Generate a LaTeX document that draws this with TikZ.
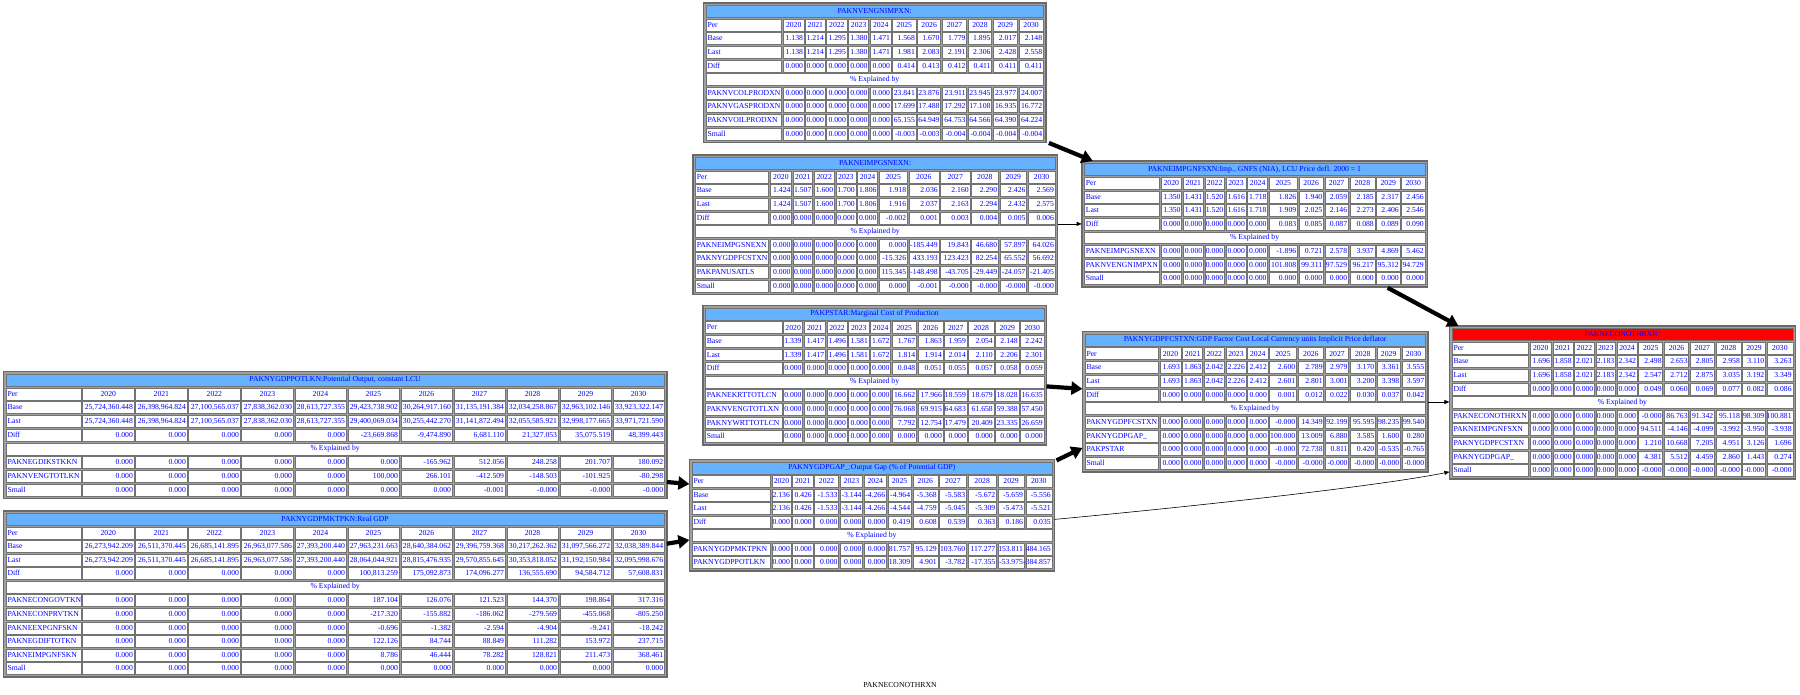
\documentclass[tikz,border=0pt]{standalone}
\usepackage{fontspec}
\setmainfont{Liberation Serif}
\usetikzlibrary{arrows.meta,calc}

\definecolor{gvblue}{RGB}{0,0,255}
\definecolor{gvhead}{RGB}{102,178,255}
\definecolor{gvred}{RGB}{255,0,0}
\definecolor{gvgap}{RGB}{160,160,160}
\definecolor{gvframe}{RGB}{105,105,105}
\definecolor{gvcellline}{RGB}{115,115,115}

\makeatletter
\newcount\gv@c
\def\gv@sp{1.67}
\newcommand\gvfont{\fontsize{7.7}{9}\selectfont}

% column edges from a left x and a list of widths
\newcommand\gvcols[2]{%
  \xdef\gv@x{#1}\global\gv@c=0
  \foreach \w in {#2}{%
    \pgfmathsetmacro\gv@r{\gv@x+\w}%
    \expandafter\xdef\csname gvL\the\gv@c\endcsname{\gv@x}%
    \expandafter\xdef\csname gvR\the\gv@c\endcsname{\gv@r}%
    \pgfmathsetmacro\gv@nx{\gv@r+\gv@sp}%
    \xdef\gv@x{\gv@nx}%
    \global\advance\gv@c by 1
  }%
}
\newcommand\gvsetup[4]{\gvcols{#1}{#4}\xdef\gvT{#2}\xdef\gvP{#3}}

% vertical extent of a row
\newcommand\gv@rowy[1]{%
  \pgfmathsetmacro\gv@t{\gvT+(#1)*\gvP}%
  \pgfmathsetmacro\gv@b{\gv@t+\gvP-\gv@sp}%
  \pgfmathsetmacro\gv@m{(\gv@t+\gv@b)/2}%
}
\newcommand\gvcell[3]{%
  \gv@rowy{#1}%
  \filldraw[fill=#3, draw=gvcellline, line width=0.5pt]
    (\csname gvL#2\endcsname,\gv@t) rectangle (\csname gvR#2\endcsname,\gv@b);
}
% a cell spanning the whole width: row, fill, text
\newcommand\gvspan[3]{%
  \gv@rowy{#1}%
  \filldraw[fill=#2, draw=gvcellline, line width=0.5pt]
    (\csname gvL0\endcsname,\gv@t) rectangle (\csname gvR11\endcsname,\gv@b);
  \node[gvtxt] at ({(\csname gvL0\endcsname+\csname gvR11\endcsname)/2},\gv@m) {#3};
}
% frame, title row and year row: name, rows, title fill, title
\newcommand\gvframe[4]{%
  \pgfmathsetmacro\gv@l{\csname gvL0\endcsname-2.6}%
  \pgfmathsetmacro\gv@rr{\csname gvR11\endcsname+2.6}%
  \pgfmathsetmacro\gv@tt{\gvT-2.6}%
  \pgfmathsetmacro\gv@bb{\gvT+(#2)*\gvP-\gv@sp+2.6}%
  \pgfmathsetmacro\gv@w{\gv@rr-\gv@l}%
  \pgfmathsetmacro\gv@h{\gv@bb-\gv@tt}%
  \fill[gvgap] (\gv@l,\gv@tt) rectangle (\gv@rr,\gv@bb);
  \draw[gvframe, line width=1.6pt] (\gv@l,\gv@tt) rectangle (\gv@rr,\gv@bb);
  \node[inner sep=0pt, outer sep=0pt, minimum width=\gv@w pt, minimum height=\gv@h pt,
        anchor=north west] (#1) at (\gv@l,\gv@tt) {};
  \gvspan{0}{#3}{#4}%
  \gvcell{1}{0}{white}%
  \node[gvtxt, anchor=mid west] at (\csname gvL0\endcsname+1.3,\gv@m) {Per};
  \foreach \yr [count=\k] in {2020,2021,2022,2023,2024,2025,2026,2027,2028,2029,2030}{%
    \gvcell{1}{\k}{white}%
    \node[gvtxt] at ({(\csname gvL\k\endcsname+\csname gvR\k\endcsname)/2},\gv@m) {\yr};
  }%
}
% a data row: row, label, eleven values
\newcommand\gvrow[3]{%
  \gvcell{#1}{0}{white}%
  \node[gvtxt, anchor=mid west] at (\csname gvL0\endcsname+1.3,\gv@m) {#2};
  \foreach \val [count=\k] in {#3}{%
    \gvcell{#1}{\k}{white}%
    \node[gvtxt, anchor=mid east] at (\csname gvR\k\endcsname-0.9,\gv@m) {\val};
  }%
}
\makeatother

\tikzset{
  gvtxt/.style={font=\gvfont, text=gvblue, inner sep=0pt},
  bigedge/.style={line width=4.2pt, -{Triangle[length=11pt,width=13pt]}},
  thinedge/.style={line width=0.6pt, -{Triangle[length=5pt,width=4pt]}},
}

\begin{document}
\begin{tikzpicture}[x=1pt,y=-1pt]
\useasboundingbox (0,0) rectangle (1800,694);

% PAKNVENGNIMPXN
\gvsetup{706}{5.5}{13.6}{75.7,20.7,19.3,20.3,20,20.7,23.3,23,24.3,23.3,24,24.3}
\gvframe{T1}{10}{gvhead}{PAKNVENGNIMPXN:}
\gvrow{2}{Base}{1.138,1.214,1.295,1.380,1.471,1.568,1.670,1.779,1.895,2.017,2.148}
\gvrow{3}{Last}{1.138,1.214,1.295,1.380,1.471,1.981,2.083,2.191,2.306,2.428,2.558}
\gvrow{4}{Diff}{0.000,0.000,0.000,0.000,0.000,0.414,0.413,0.412,0.411,0.411,0.411}
\gvspan{5}{white}{\% Explained by}
\gvrow{6}{PAKNVCOLPRODXN}{0.000,0.000,0.000,0.000,0.000,23.841,23.876,23.911,23.945,23.977,24.007}
\gvrow{7}{PAKNVGASPRODXN}{0.000,0.000,0.000,0.000,0.000,17.699,17.488,17.292,17.108,16.935,16.772}
\gvrow{8}{PAKNVOILPRODXN}{0.000,0.000,0.000,0.000,0.000,65.155,64.949,64.753,64.566,64.390,64.224}
\gvrow{9}{Small}{0.000,0.000,0.000,0.000,0.000,-0.003,-0.003,-0.004,-0.004,-0.004,-0.004}

% PAKNEIMPGSNEXN
\gvsetup{695.3}{157.5}{13.6}{73.3,21.3,19.3,20,20,20,28,30,29.3,26.7,26.7,26.7}
\gvframe{T2}{10}{gvhead}{PAKNEIMPGSNEXN:}
\gvrow{2}{Base}{1.424,1.507,1.600,1.700,1.806,1.918,2.036,2.160,2.290,2.426,2.569}
\gvrow{3}{Last}{1.424,1.507,1.600,1.700,1.806,1.916,2.037,2.163,2.294,2.432,2.575}
\gvrow{4}{Diff}{0.000,0.000,0.000,0.000,0.000,-0.002,0.001,0.003,0.004,0.005,0.006}
\gvspan{5}{white}{\% Explained by}
\gvrow{6}{PAKNEIMPGSNEXN}{0.000,0.000,0.000,0.000,0.000,0.000,-185.449,19.843,46.680,57.897,64.026}
\gvrow{7}{PAKNYGDPFCSTXN}{0.000,0.000,0.000,0.000,0.000,-15.326,433.193,123.423,82.254,65.552,56.692}
\gvrow{8}{PAKPANUSATLS}{0.000,0.000,0.000,0.000,0.000,115.345,-148.498,-43.705,-29.449,-24.057,-21.405}
\gvrow{9}{Small}{0.000,0.000,0.000,0.000,0.000,0.000,-0.001,-0.000,-0.000,-0.000,-0.000}

% PAKNEIMPGNFSXN
\gvsetup{1084.3}{163.5}{13.65}{75,20.7,20,19.3,20,20,28,24.3,23.3,25,23.3,23.3}
\gvframe{T3}{9}{gvhead}{PAKNEIMPGNFSXN:Imp., GNFS (NIA), LCU Price defl. 2000 = 1}
\gvrow{2}{Base}{1.350,1.431,1.520,1.616,1.718,1.826,1.940,2.059,2.185,2.317,2.456}
\gvrow{3}{Last}{1.350,1.431,1.520,1.616,1.718,1.909,2.025,2.146,2.273,2.406,2.546}
\gvrow{4}{Diff}{0.000,0.000,0.000,0.000,0.000,0.083,0.085,0.087,0.088,0.089,0.090}
\gvspan{5}{white}{\% Explained by}
\gvrow{6}{PAKNEIMPGSNEXN}{0.000,0.000,0.000,0.000,0.000,-1.896,0.721,2.578,3.937,4.869,5.462}
\gvrow{7}{PAKNVENGNIMPXN}{0.000,0.000,0.000,0.000,0.000,101.808,99.311,97.529,96.217,95.312,94.729}
\gvrow{8}{Small}{0.000,0.000,0.000,0.000,0.000,0.000,0.000,0.000,0.000,0.000,0.000}

% PAKPSTAR
\gvsetup{705.3}{308}{13.6}{76.7,19,21,20,20.3,20,24,25,22.3,25.3,23.3,23.3}
\gvframe{T4}{10}{gvhead}{PAKPSTAR:Marginal Cost of Production}
\gvrow{2}{Base}{1.339,1.417,1.496,1.581,1.672,1.767,1.863,1.959,2.054,2.148,2.242}
\gvrow{3}{Last}{1.339,1.417,1.496,1.581,1.672,1.814,1.914,2.014,2.110,2.206,2.301}
\gvrow{4}{Diff}{0.000,0.000,0.000,0.000,0.000,0.048,0.051,0.055,0.057,0.058,0.059}
\gvspan{5}{white}{\% Explained by}
\gvrow{6}{PAKNEKRTTOTLCN}{0.000,0.000,0.000,0.000,0.000,16.662,17.966,18.559,18.679,18.028,16.635}
\gvrow{7}{PAKNVENGTOTLXN}{0.000,0.000,0.000,0.000,0.000,76.068,69.915,64.683,61.658,59.388,57.450}
\gvrow{8}{PAKNYWRTTOTLCN}{0.000,0.000,0.000,0.000,0.000,7.792,12.754,17.479,20.409,23.335,26.659}
\gvrow{9}{Small}{0.000,0.000,0.000,0.000,0.000,0.000,0.000,0.000,0.000,0.000,0.000}

% PAKNYGDPFCSTXN
\gvsetup{1085}{334}{13.7}{73.3,21,20,20,20,20.3,26.7,25.7,23.3,25,23.3,23.3}
\gvframe{T5}{10}{gvhead}{PAKNYGDPFCSTXN:GDP Factor Cost Local Currency units Implicit Price deflator}
\gvrow{2}{Base}{1.693,1.863,2.042,2.226,2.412,2.600,2.789,2.979,3.170,3.361,3.555}
\gvrow{3}{Last}{1.693,1.863,2.042,2.226,2.412,2.601,2.801,3.001,3.200,3.398,3.597}
\gvrow{4}{Diff}{0.000,0.000,0.000,0.000,0.000,0.001,0.012,0.022,0.030,0.037,0.042}
\gvspan{5}{white}{\% Explained by}
\gvrow{6}{PAKNYGDPFCSTXN}{0.000,0.000,0.000,0.000,0.000,-0.000,14.349,92.199,95.595,98.235,99.540}
\gvrow{7}{PAKNYGDPGAP\_}{0.000,0.000,0.000,0.000,0.000,100.000,13.009,6.880,3.585,1.600,0.280}
\gvrow{8}{PAKPSTAR}{0.000,0.000,0.000,0.000,0.000,-0.000,72.738,0.811,0.420,-0.535,-0.765}
\gvrow{9}{Small}{0.000,0.000,0.000,0.000,0.000,-0.000,-0.000,-0.000,-0.000,-0.000,-0.000}

% PAKNECONOTHRXN
\gvsetup{1452}{328.5}{13.6}{76.7,20.7,20,20,19.3,20,24,24.3,24,25,22.7,25.7}
\gvframe{T6}{11}{gvred}{PAKNECONOTHRXN:}
\gvrow{2}{Base}{1.696,1.858,2.021,2.183,2.342,2.498,2.653,2.805,2.958,3.110,3.263}
\gvrow{3}{Last}{1.696,1.858,2.021,2.183,2.342,2.547,2.712,2.875,3.035,3.192,3.349}
\gvrow{4}{Diff}{0.000,0.000,0.000,0.000,0.000,0.049,0.060,0.069,0.077,0.082,0.086}
\gvspan{5}{white}{\% Explained by}
\gvrow{6}{PAKNECONOTHRXN}{0.000,0.000,0.000,0.000,0.000,-0.000,86.763,91.342,95.118,98.309,100.881}
\gvrow{7}{PAKNEIMPGNFSXN}{0.000,0.000,0.000,0.000,0.000,94.511,-4.146,-4.099,-3.992,-3.950,-3.938}
\gvrow{8}{PAKNYGDPFCSTXN}{0.000,0.000,0.000,0.000,0.000,1.210,10.668,7.205,4.951,3.126,1.696}
\gvrow{9}{PAKNYGDPGAP\_}{0.000,0.000,0.000,0.000,0.000,4.381,5.512,4.459,2.860,1.443,0.274}
\gvrow{10}{Small}{0.000,0.000,0.000,0.000,0.000,-0.000,-0.000,-0.000,-0.000,-0.000,-0.000}

% PAKNYGDPPOTLKN
\gvsetup{6}{374}{13.75}{75,51.35,51.35,51.35,51.35,51.35,51.35,51.35,51.35,51.35,51.35,51.35}
\gvframe{T7}{9}{gvhead}{PAKNYGDPPOTLKN:Potential Output, constant LCU}
\gvrow{2}{Base}{{25,724,360.448},{26,398,964.824},{27,100,565.037},{27,838,362.030},{28,613,727.355},{29,423,738.902},{30,264,917.160},{31,135,191.384},{32,034,258.867},{32,963,102.146},{33,923,322.147}}
\gvrow{3}{Last}{{25,724,360.448},{26,398,964.824},{27,100,565.037},{27,838,362.030},{28,613,727.355},{29,400,069.034},{30,255,442.270},{31,141,872.494},{32,055,585.921},{32,998,177.665},{33,971,721.590}}
\gvrow{4}{Diff}{0.000,0.000,0.000,0.000,0.000,{-23,669.868},{-9,474.890},{6,681.110},{21,327.053},{35,075.519},{48,399.443}}
\gvspan{5}{white}{\% Explained by}
\gvrow{6}{PAKNEGDIKSTKKN}{0.000,0.000,0.000,0.000,0.000,0.000,-165.962,512.056,248.258,201.707,180.092}
\gvrow{7}{PAKNVENGTOTLKN}{0.000,0.000,0.000,0.000,0.000,100.000,266.101,-412.509,-148.503,-101.925,-80.298}
\gvrow{8}{Small}{0.000,0.000,0.000,0.000,0.000,0.000,0.000,-0.001,-0.000,-0.000,-0.000}

% PAKNYGDPGAP_
\gvsetup{692}{462}{13.5}{78.3,19,20.3,24,22.3,22,23.3,25,26.7,28.5,26,26.1}
\gvframe{T8}{8}{gvhead}{PAKNYGDPGAP\_:Output Gap (\% of Potential GDP)}
\gvrow{2}{Base}{2.136,0.426,-1.533,-3.144,-4.266,-4.964,-5.368,-5.583,-5.672,-5.659,-5.556}
\gvrow{3}{Last}{2.136,0.426,-1.533,-3.144,-4.266,-4.544,-4.759,-5.045,-5.309,-5.473,-5.521}
\gvrow{4}{Diff}{0.000,0.000,0.000,0.000,0.000,0.419,0.608,0.539,0.363,0.186,0.035}
\gvspan{5}{white}{\% Explained by}
\gvrow{6}{PAKNYGDPMKTPKN}{0.000,0.000,0.000,0.000,0.000,81.757,95.129,103.760,117.277,153.811,484.165}
\gvrow{7}{PAKNYGDPPOTLKN}{0.000,0.000,0.000,0.000,0.000,18.309,4.901,-3.782,-17.355,-53.975,-384.857}

% PAKNYGDPMKTPKN
\gvsetup{6}{513.3}{13.57}{75,51.35,51.35,51.35,51.35,51.35,51.35,51.35,51.35,51.35,51.35,51.35}
\gvframe{T9}{12}{gvhead}{PAKNYGDPMKTPKN:Real GDP}
\gvrow{2}{Base}{{26,273,942.209},{26,511,370.445},{26,685,141.895},{26,963,077.586},{27,393,200.440},{27,963,231.663},{28,640,384.062},{29,396,759.368},{30,217,262.362},{31,097,566.272},{32,038,389.844}}
\gvrow{3}{Last}{{26,273,942.209},{26,511,370.445},{26,685,141.895},{26,963,077.586},{27,393,200.440},{28,064,044.921},{28,815,476.935},{29,570,855.645},{30,353,818.052},{31,192,150.984},{32,095,998.676}}
\gvrow{4}{Diff}{0.000,0.000,0.000,0.000,0.000,{100,813.259},{175,092.873},{174,096.277},{136,555.690},{94,584.712},{57,608.831}}
\gvspan{5}{white}{\% Explained by}
\gvrow{6}{PAKNECONGOVTKN}{0.000,0.000,0.000,0.000,0.000,187.104,126.076,121.523,144.370,198.864,317.316}
\gvrow{7}{PAKNECONPRVTKN}{0.000,0.000,0.000,0.000,0.000,-217.320,-155.882,-186.062,-279.569,-455.068,-805.250}
\gvrow{8}{PAKNEEXPGNFSKN}{0.000,0.000,0.000,0.000,0.000,-0.696,-1.382,-2.594,-4.904,-9.241,-18.242}
\gvrow{9}{PAKNEGDIFTOTKN}{0.000,0.000,0.000,0.000,0.000,122.126,84.744,88.849,111.282,153.972,237.715}
\gvrow{10}{PAKNEIMPGNFSKN}{0.000,0.000,0.000,0.000,0.000,8.786,46.444,78.282,128.821,211.473,368.461}
\gvrow{11}{Small}{0.000,0.000,0.000,0.000,0.000,0.000,0.000,0.000,0.000,0.000,0.000}

% caption under the graph
\node[font=\fontsize{7.7}{9}\selectfont, inner sep=0pt] (cap) at (900,685) {PAKNECONOTHRXN};

% links between the tables
\draw[bigedge] ($(T1.south east)+(3,0.5)$) -- ($(T3.north west)+(11,0)$);
\draw[thinedge] ($(T2.north east)+(0,69)$) -- ($(T3.north west)+(0,63)$);
\draw[bigedge] ($(T3.south west)+(306,0.5)$) -- ($(T6.north west)+(9,0)$);
\draw[bigedge] ($(T4.north east)+(0,81)$) -- ($(T5.north west)+(0,57.5)$);
\draw[bigedge] ($(T8.north east)+(2,1)$) -- ($(T5.north west)+(0,116.5)$);
\draw[thinedge] ($(T5.north east)+(0,70.6)$) -- ($(T6.north west)+(0,76.1)$);
\draw[thinedge] ($(T8.north east)+(0,60)$) .. controls ($(T8.north east)+(150,46)$) and ($(T6.north west)+(-70,160)$) .. ($(T6.north west)+(0,146)$);
\draw[bigedge] ($(T7.north east)+(0,110.6)$) -- ($(T8.north west)+(0,24.6)$);
\draw[bigedge] ($(T9.north east)+(0,33)$) -- ($(T8.north west)+(0,80.6)$);
\end{tikzpicture}
\end{document}
